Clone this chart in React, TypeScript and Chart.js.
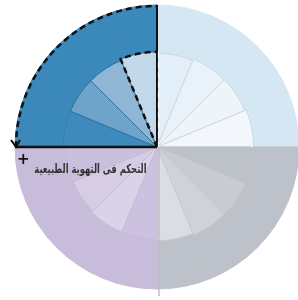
import React, { useEffect, useRef } from "react";
import { Chart, registerables } from "chart.js";

Chart.register(...registerables);

// 16 equal sectors, clockwise from 12 o'clock (4 per quadrant)
const sectors = [
  "TR1", "TR2", "TR3", "TR4",
  "BR1", "BR2", "BR3", "BR4",
  "BL1", "BL2", "BL3", "BL4",
  "TL1", "TL2", "TL3", "TL4",
];
const outerValues = [100, 100, 100, 100, 100, 100, 100, 100, 100, 100, 100, 100, 100, 100, 100, 100];
const innerValues = [66, 67, 67, 68, 66, 67, 67, 66, 65, 65, 64, 64, 66, 66, 66, 67];
const outerColors = [
  "#d6e7f4", "#d6e7f4", "#d6e7f4", "#d6e7f4",
  "#bdc1c9", "#bdc1c9", "#bdc1c9", "#bdc1c9",
  "#c8bcdb", "#c8bcdb", "#c8bcdb", "#c8bcdb",
  "#3b88ba", "#3b88ba", "#3b88ba", "#3b88ba",
];
const innerColors = [
  "#e2eef8", "#e9f2f9", "#eef5fa", "#f3f7fc",
  "#bdc1c9", "#c8cbd2", "#d0d2d8", "#dcdde2",
  "#ccc1de", "#dad2e9", "#d6cde5", "#cabfdd",
  "#3e8abc", "#6ea4ca", "#8fb6d5", "#c3d8ea",
];
const innerBorders = [
  "#ccd8e2", "#ccd8e2", "#ccd8e2", "#ccd8e2",
  "#bdc1c9", "#c6c9d0", "#c6c9d0", "#c6c9d0",
  "#c6bbd9", "#c6bbd9", "#c6bbd9", "#c6bbd9",
  "#3580b1", "#2e6f9b", "#2e6f9b", "#2e6f9b",
];
const labelText = "التحكم فى التهوية الطبيعية";
const highlightSector = 15;

const decorPlugin = {
  id: "decor",
  afterDatasetsDraw(chart: any) {
    const r = chart.scales.r;
    const cx = r.xCenter;
    const cy = r.yCenter;
    const R = r.drawingArea;
    const ri = r.getDistanceFromCenterForValue(innerValues[highlightSector]);
    const ctx = chart.ctx;
    ctx.save();
    // quadrant separator (gray) below center
    ctx.strokeStyle = "#bdbdc6";
    ctx.lineWidth = 1.5;
    ctx.beginPath();
    ctx.moveTo(cx + 2, cy);
    ctx.lineTo(cx + 2, cy + R + 7);
    ctx.stroke();
    // solid black edges
    ctx.strokeStyle = "#111";
    ctx.lineWidth = 2.5;
    ctx.beginPath();
    ctx.moveTo(cx, cy);
    ctx.lineTo(cx - R, cy);
    ctx.stroke();
    ctx.lineWidth = 2;
    ctx.beginPath();
    ctx.moveTo(cx, cy - R);
    ctx.lineTo(cx, cy);
    ctx.stroke();
    // dashed outline
    ctx.setLineDash([6, 4]);
    ctx.lineWidth = 2.5;
    ctx.beginPath();
    ctx.arc(cx, cy, R - 1, Math.PI, 1.5 * Math.PI);
    ctx.stroke();
    const a0 = 1.5 * Math.PI - Math.PI / 8;
    ctx.beginPath();
    ctx.moveTo(cx, cy);
    ctx.lineTo(cx + Math.cos(a0) * ri, cy + Math.sin(a0) * ri);
    ctx.arc(cx, cy, ri, a0, 1.5 * Math.PI);
    ctx.stroke();
    ctx.strokeStyle = "#ffffff";
    ctx.lineWidth = 1.2;
    ctx.beginPath();
    ctx.moveTo(cx + 1.5, cy - ri);
    ctx.lineTo(cx + 1.5, cy);
    ctx.stroke();
    ctx.setLineDash([]);
    // arrow head at end of dashed arc
    ctx.strokeStyle = "#111";
    ctx.lineWidth = 2;
    ctx.beginPath();
    ctx.moveTo(cx - R - 4, cy - 7);
    ctx.lineTo(cx - R + 1, cy);
    ctx.lineTo(cx - R + 5, cy - 7);
    ctx.stroke();
    ctx.restore();
  },
};

export default function App() {
  const ref = useRef<HTMLCanvasElement | null>(null);
  useEffect(() => {
    if (!ref.current) return;
    const chart = new Chart(ref.current, {
      type: "polarArea",
      data: {
        labels: sectors,
        datasets: [
          {
            data: innerValues,
            backgroundColor: innerColors,
            borderColor: innerBorders,
            borderWidth: 1,
          },
          {
            data: outerValues,
            backgroundColor: outerColors,
            borderColor: outerColors,
            borderWidth: 1,
          },
        ],
      },
      options: {
        responsive: false,
        animation: false,
        layout: { padding: { left: 15, right: 1, top: 5, bottom: 11 } },
        plugins: { legend: { display: false }, tooltip: { enabled: false } },
        scales: {
          r: {
            display: false,
            min: 0,
            max: 100,
            ticks: { display: false },
            grid: { display: false },
          },
        },
      },
      plugins: [decorPlugin],
    });
    return () => chart.destroy();
  }, []);
  return (
    <div style={{ position: "absolute", left: 0, top: 0, width: 298, height: 300, overflow: "hidden", background: "#fff" }}>
      <canvas ref={ref} width={300} height={300} style={{ width: 300, height: 300, display: "block" }} />
      <div
        style={{
          position: "absolute",
          left: 17,
          top: 152,
          fontFamily: "'DejaVu Sans', sans-serif",
          fontWeight: "bold",
          fontSize: 15,
          color: "#111",
          lineHeight: "15px",
        }}
      >
        +
      </div>
      <div
        dir="rtl"
        style={{
          position: "absolute",
          right: 298 - 147,
          top: 161,
          fontFamily: "'DejaVu Sans', sans-serif",
          fontWeight: "bold",
          fontSize: 12.5,
          color: "#333",
          whiteSpace: "nowrap",
          lineHeight: "16px",
          transform: "scaleX(0.67)",
          transformOrigin: "right center",
        }}
      >
        {labelText}
      </div>
    </div>
  );
}
